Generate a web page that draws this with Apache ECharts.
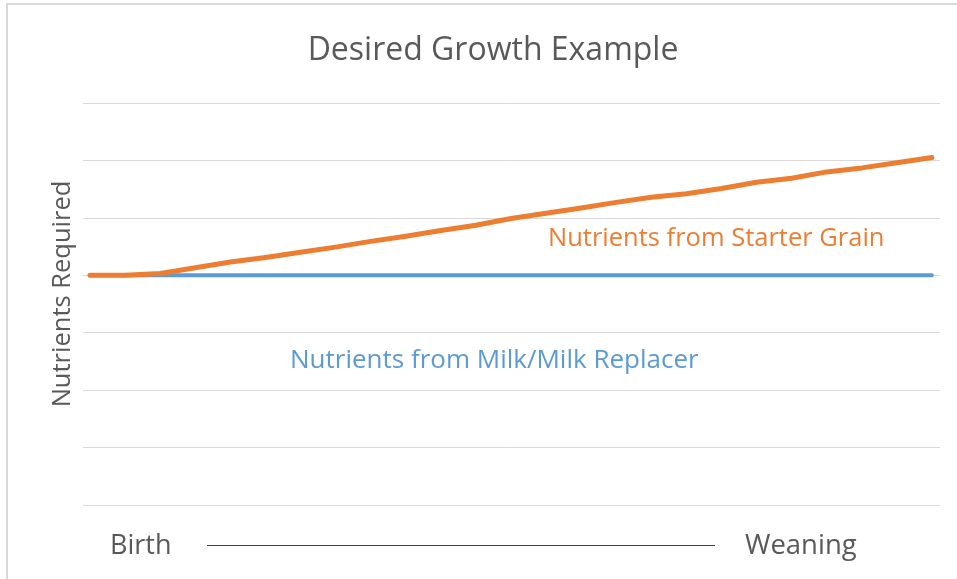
<!DOCTYPE html>
<html>
<head>
<meta charset="utf-8">
<script src="https://cdn.jsdelivr.net/npm/echarts@6/dist/echarts.min.js"></script>
<style>
  html, body { margin: 0; padding: 0; background: #fff; }
  #chart { width: 957px; height: 579px; }
</style>
</head>
<body>
<div id="chart"></div>
<script>
// time steps between birth and weaning
const steps = [0, 1, 2, 3, 4, 5, 6, 7, 8, 9, 10, 11, 12, 13, 14, 15, 16, 17, 18, 19, 20, 21, 22, 23, 24];
const milk = [4, 4, 4, 4, 4, 4, 4, 4, 4, 4, 4, 4, 4, 4, 4, 4, 4, 4, 4, 4, 4, 4, 4, 4, 4];
const starter = [4, 4, 4.03, 4.13, 4.23, 4.31, 4.40, 4.49, 4.59, 4.68, 4.78, 4.87, 4.99, 5.08,
  5.17, 5.27, 5.36, 5.42, 5.51, 5.62, 5.69, 5.80, 5.87, 5.96, 6.05];
const yTicks = [0, 1, 2, 3, 4, 5, 6, 7];

const font = 'Open Sans';
const grey = '#595959';

const chart = echarts.init(document.getElementById('chart'));

chart.setOption({
  animation: false,
  title: {
    text: 'Desired Growth Example',
    left: 488,
    textAlign: 'center',
    top: 30,
    textStyle: {color: grey, fontFamily: font, fontSize: 32, fontWeight: 'normal'}
  },
  grid: {left: 83, right: 17, top: 103, bottom: 74},
  xAxis: {
    type: 'value',
    min: -0.2,
    max: 24.23,
    show: false
  },
  yAxis: {
    type: 'value',
    min: yTicks[0],
    max: yTicks[yTicks.length - 1],
    interval: 1,
    axisLabel: {show: false},
    axisLine: {show: false},
    axisTick: {show: false},
    splitLine: {lineStyle: {color: '#d9d9d9', width: 1}}
  },
  series: [
    {
      name: 'Milk',
      type: 'line',
      symbol: 'none',
      data: steps.map((s, i) => [s, milk[i]]),
      lineStyle: {color: '#5b9bd5', width: 4, cap: 'round'},
      z: 2
    },
    {
      name: 'Starter',
      type: 'line',
      symbol: 'none',
      data: steps.map((s, i) => [s, starter[i]]),
      lineStyle: {color: '#ed7d31', width: 5, cap: 'round', join: 'round'},
      z: 3
    }
  ],
  graphic: [
    {
      type: 'rect',
      shape: {x: 7, y: 4, width: 1000, height: 1000},
      style: {fill: 'none', stroke: '#d9d9d9', lineWidth: 2},
      silent: true
    },
    {
      type: 'text',
      x: 63, y: 294,
      rotation: Math.PI / 2,
      style: {text: 'Nutrients Required', fill: grey, font: '25.5px "Open Sans"', align: 'center', verticalAlign: 'middle'}
    },
    {
      type: 'text',
      x: 548, y: 239,
      style: {text: 'Nutrients from Starter Grain', fill: '#ed7d31', font: '25.5px "Open Sans"', verticalAlign: 'middle'}
    },
    {
      type: 'text',
      x: 290, y: 361,
      style: {text: 'Nutrients from Milk/Milk Replacer', fill: '#5b9bd5', font: '26px "Open Sans"', verticalAlign: 'middle'}
    },
    {
      type: 'text',
      x: 110, y: 546,
      style: {text: 'Birth', fill: grey, font: '27px "Open Sans"', verticalAlign: 'middle'}
    },
    {
      type: 'line',
      shape: {x1: 207, y1: 545.5, x2: 715, y2: 545.5},
      style: {stroke: '#404040', lineWidth: 1}
    },
    {
      type: 'text',
      x: 745, y: 546,
      style: {text: 'Weaning', fill: grey, font: '27.5px "Open Sans"', verticalAlign: 'middle'}
    }
  ]
});
</script>
</body>
</html>
